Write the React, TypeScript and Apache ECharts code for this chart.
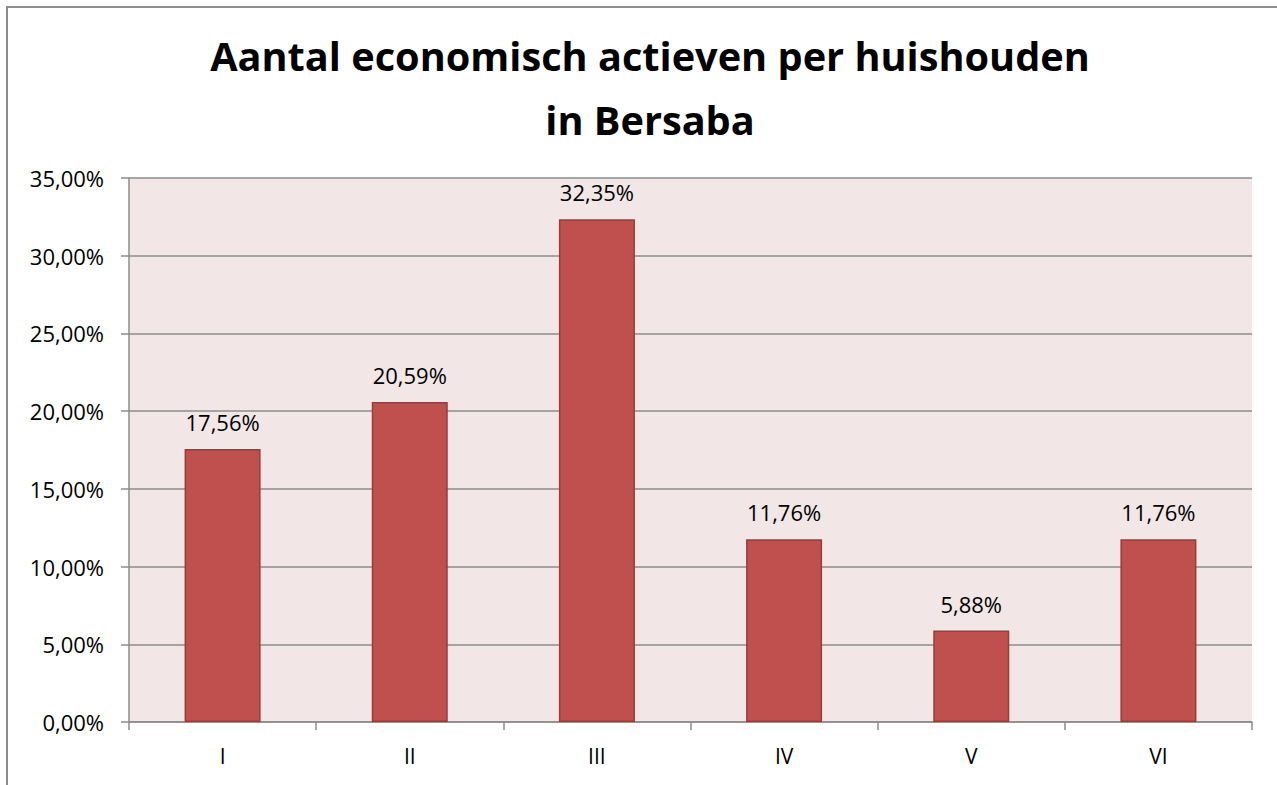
import React, { useEffect, useRef } from "react";
import * as echarts from "echarts";

const categories = ["I", "II", "III", "IV", "V", "VI"];
const values = [17.56, 20.59, 32.35, 11.76, 5.88, 11.76];
const titleLines = ["Aantal economisch actieven per huishouden", "in Bersaba"];

const fmt = (v: number) => v.toFixed(2).replace(".", ",") + "%";

export default function App() {
  const ref = useRef<HTMLDivElement>(null);
  useEffect(() => {
    const chart = echarts.init(ref.current!, null, { renderer: "svg" });
    chart.setOption({
      animation: false,
      backgroundColor: "#ffffff",
      title: {
        text: titleLines.join("\n"),
        left: 645,
        textAlign: "center",
        top: 19,
        textStyle: {
          fontFamily: "Open Sans",
          fontWeight: "bold",
          fontSize: 39.7,
          lineHeight: 64,
          color: "#000",
        },
      },
      graphic: [
        {
          type: "polyline",
          shape: { points: [[7, 800], [7, 7], [1290, 7]] },
          style: { stroke: "#8c8c8c", lineWidth: 2, fill: "none" },
        },
      ],
      grid: {
        left: 129,
        right: 25,
        top: 178,
        bottom: 63,
        show: true,
        backgroundColor: "#F2E7E6",
        borderWidth: 0,
      },
      xAxis: {
        type: "category",
        data: categories,
        axisLine: { lineStyle: { color: "#8c8c8c", width: 1.5 } },
        axisTick: { show: true, length: 8, alignWithLabel: false, lineStyle: { color: "#8c8c8c", width: 1.5 } },
        axisLabel: { color: "#000", fontSize: 21, fontFamily: "Open Sans", margin: 23 },
      },
      yAxis: {
        type: "value",
        min: 0,
        max: 35,
        interval: 5,
        axisLine: { show: true, lineStyle: { color: "#8c8c8c", width: 1.5 } },
        axisTick: { show: true, length: 8, lineStyle: { color: "#8c8c8c", width: 1.5 } },
        splitLine: { show: true, lineStyle: { color: "#8c8c8c", width: 1.5 } },
        axisLabel: { color: "#000", fontSize: 22, fontFamily: "Open Sans", margin: 25, formatter: (v: number) => fmt(v) },
      },
      series: [
        {
          type: "bar",
          data: values,
          barWidth: "40.6%",
          itemStyle: { color: "#C0504D", borderColor: "#9B3B39", borderWidth: 1.5 },
          label: {
            show: true,
            position: "top",
            distance: 16,
            color: "#000",
            fontSize: 22,
            fontFamily: "Open Sans",
            formatter: (p: any) => fmt(p.value),
          },
        },
      ],
    });
    return () => chart.dispose();
  }, []);
  return (
    <div
      ref={ref}
      style={{ position: "absolute", left: 0, top: 0, width: 1277, height: 785 }}
    />
  );
}
